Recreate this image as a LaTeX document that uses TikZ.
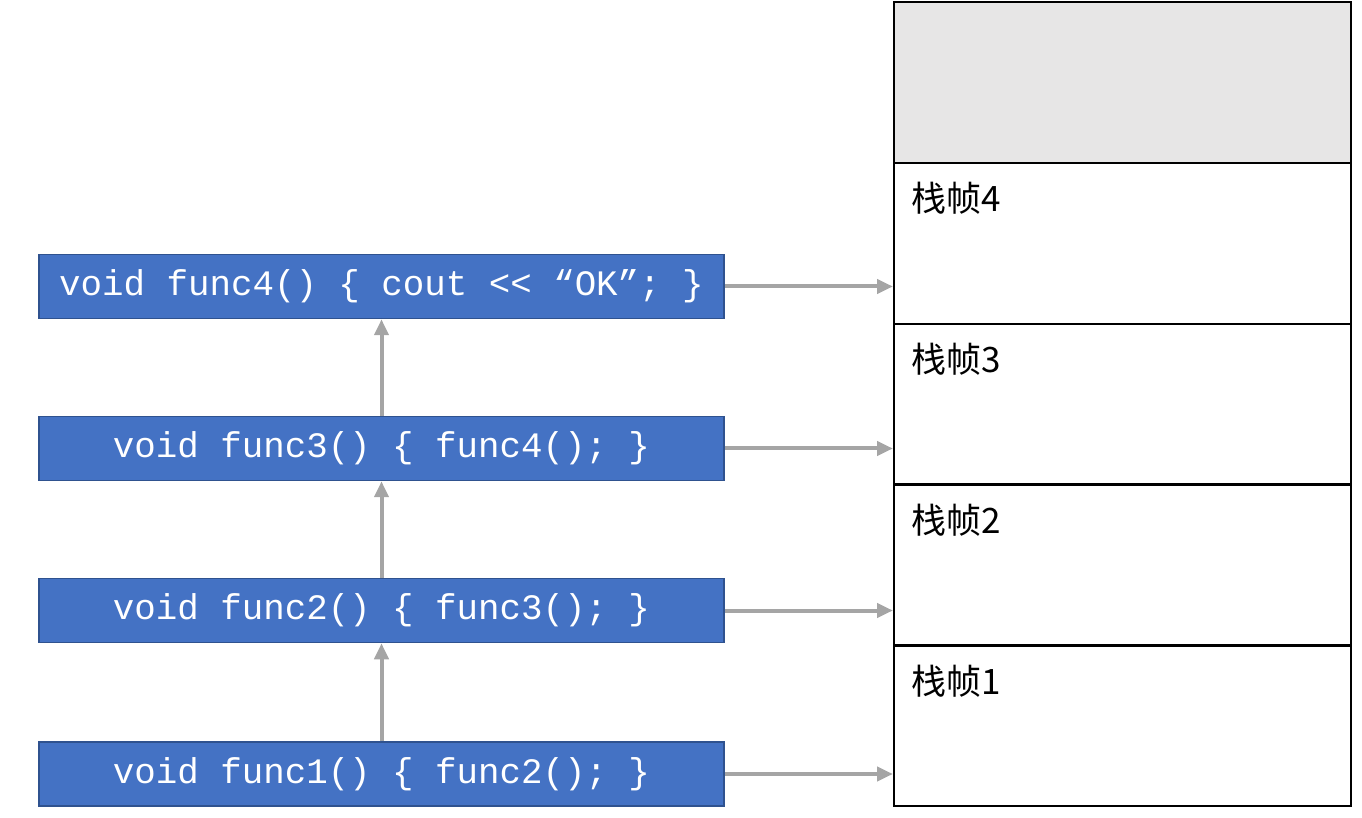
\documentclass[tikz,border=0pt]{standalone}
\usepackage{fontspec}
\setmonofont{Liberation Mono}
\newfontfamily\cjk{Noto Sans CJK SC}
\usepackage{tikz}
\usetikzlibrary{arrows.meta, positioning}
\usepackage{xcolor}
\definecolor{funcblue}{HTML}{4472C4}
\definecolor{funcedge}{HTML}{2F528F}
\definecolor{callgray}{HTML}{A5A5A5}
\definecolor{topgray}{HTML}{E7E6E6}

\begin{document}
\begin{tikzpicture}[
    x=0.5pt, y=-0.5pt,
    func/.style={rectangle, draw=funcedge, line width=0.75pt, fill=funcblue,
                 text=white, inner sep=0pt,
                 minimum width=342.5pt, minimum height=32pt,
                 font=\ttfamily\fontsize{17.9}{22}\selectfont},
    frame/.style={rectangle, draw=black, line width=1pt, inner sep=0pt,
                  minimum width=228.5pt, minimum height=80.5pt},
    framelabel/.style={anchor=base west, inner sep=0pt,
                       font=\cjk\fontsize{17.5}{20}\selectfont},
    call/.style={-{Triangle[length=8pt, width=7pt]}, draw=callgray, line width=2pt}
]
\useasboundingbox (0,0) rectangle (1362,818);

% Stack frames
\node[frame, fill=topgray] (top) at (1122.5,83) {};
\node[frame] (s4) at (1122.5,243.5) {};
\node[frame] (s3) at (1122.5,404.5) {};
\node[frame] (s2) at (1122.5,565) {};
\node[frame] (s1) at (1122.5,725.5) {};

\node[framelabel] (l4) at ([xshift=9pt, yshift=-25pt]s4.north west) {栈帧4};
\node[framelabel] (l3) at ([xshift=9pt, yshift=-25pt]s3.north west) {栈帧3};
\node[framelabel] (l2) at ([xshift=9pt, yshift=-25pt]s2.north west) {栈帧2};
\node[framelabel] (l1) at ([xshift=9pt, yshift=-25pt]s1.north west) {栈帧1};

% Call chain
\node[func] (f4) at (381.5,286.5) {void func4() \{ cout << “OK”; \}};
\node[func] (f3) at (381.5,448.5) {void func3() \{ func4(); \}};
\node[func] (f2) at (381.5,610.5) {void func2() \{ func3(); \}};
\node[func] (f1) at (381.5,774) {void func1() \{ func2(); \}};

\draw[call] (f1) -- (f2);
\draw[call] (f2) -- (f3);
\draw[call] (f3) -- (f4);

% Frame links
\draw[call] (f4.east) -- (f4.east -| s4.west);
\draw[call] (f3.east) -- (f3.east -| s3.west);
\draw[call] (f2.east) -- (f2.east -| s2.west);
\draw[call] (f1.east) -- (f1.east -| s1.west);

\end{tikzpicture}
\end{document}
